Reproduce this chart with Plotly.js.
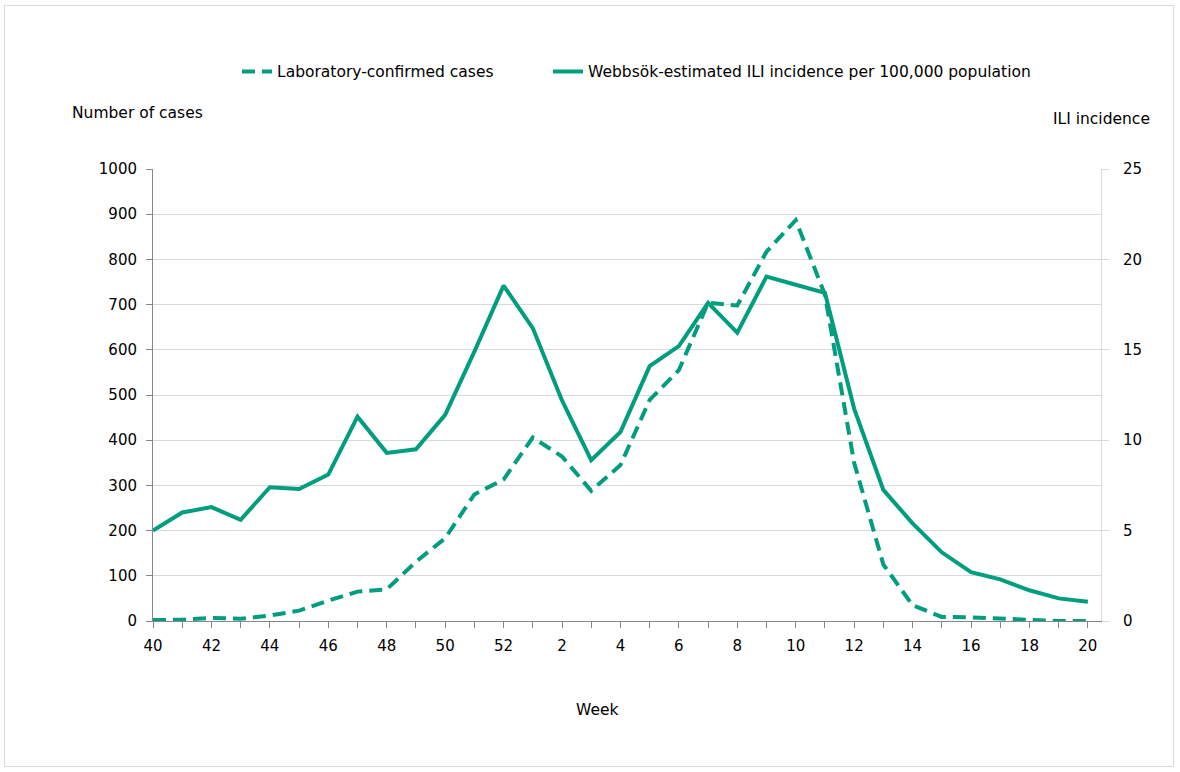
<!DOCTYPE html>
<html>
<head>
<meta charset="utf-8">
<script src="https://cdn.plot.ly/plotly-3.0.1.min.js"></script>
<style>
    body { margin: 0; background: #fff; }
    #chart { width: 1180px; height: 772px; }
    #frame { position: absolute; left: 4px; top: 5px; width: 1168px; height: 760px;
             border: 1px solid #d9d9d9; pointer-events: none; }
</style>
</head>
<body>
<div id="chart"></div>
<div id="frame"></div>
<script>

const weeks = [ 40, 41, 42, 43, 44, 45, 46, 47, 48, 49, 50, 51, 52,
    1, 2, 3, 4, 5, 6, 7, 8, 9, 10, 11, 12, 13, 14, 15, 16, 17, 18, 19, 20 ];

// laboratory-confirmed cases (left axis)
const labCases = [ 2, 3, 7, 5, 12, 23, 45, 65, 70, 131, 183, 280, 313,
    406, 364, 288, 345, 489, 555, 704, 698, 817, 887, 722, 350, 125, 35,
    9, 8, 5, 3, 0, 0 ];

// Webbsök ILI incidence per 100,000 (right axis)
const iliIncidence = [ 5.0, 6.0, 6.3, 5.6, 7.4, 7.3, 8.1, 11.3, 9.3, 9.5, 11.4, 14.9, 18.55,
    16.2, 12.2, 8.9, 10.45, 14.1, 15.2, 17.6, 15.95, 19.05, 18.6, 18.15, 11.75, 7.25, 5.4,
    3.8, 2.7, 2.3, 1.7, 1.25, 1.07 ];

const green = '#009e7e';
const font = 'DejaVu Sans, Verdana, sans-serif';

const xIdx = weeks.map( ( w, i ) => i );
const tickText = weeks.map( ( w, i ) => i % 2 === 0 ? String( w ) : '' );

const data = [
    {
        type: 'scatter',
        mode: 'lines',
        name: 'Laboratory-confirmed cases',
        legend: 'legend',
        x: xIdx,
        y: labCases,
        yaxis: 'y',
        line: { color: green, width: 4, dash: '13px,7px' }
    },
    {
        type: 'scatter',
        mode: 'lines',
        name: 'Webbsök-estimated ILI incidence per 100,000 population',
        legend: 'legend2',
        x: xIdx,
        y: iliIncidence,
        yaxis: 'y2',
        line: { color: green, width: 4 }
    }
];

const legendBase = {
    orientation: 'h',
    xanchor: 'left',
    y: 1.215,
    yanchor: 'middle',
    font: { family: font, size: 15.5, color: '#000' }
};

const layout = {
    width: 1180,
    height: 772,
    margin: { l: 153, r: 79, t: 169, b: 151 },
    paper_bgcolor: '#fff',
    plot_bgcolor: '#fff',
    font: { family: font, size: 15, color: '#000' },
    showlegend: true,
    legend: Object.assign( {}, legendBase, { x: ( 237 - 153 ) / 948 } ),
    legend2: Object.assign( {}, legendBase, { x: ( 548 - 153 ) / 948 } ),
    xaxis: {
        range: [ 0, 32.45 ],
        tickvals: xIdx,
        ticktext: tickText,
        ticks: 'outside',
        ticklen: 6,
        tickcolor: '#868686',
        ticklabelstandoff: 5,
        showline: true,
        linecolor: '#868686',
        linewidth: 1,
        showgrid: false,
        zeroline: false,
        fixedrange: true
    },
    yaxis: {
        range: [ 0, 1000 ],
        tickvals: [ 0, 100, 200, 300, 400, 500, 600, 700, 800, 900, 1000 ],
        ticks: 'outside',
        ticklen: 6,
        tickcolor: '#868686',
        ticklabelstandoff: 6,
        showline: true,
        linecolor: '#868686',
        gridcolor: '#d9d9d9',
        zeroline: false,
        fixedrange: true
    },
    yaxis2: {
        overlaying: 'y',
        side: 'right',
        range: [ 0, 25 ],
        tickvals: [ 0, 5, 10, 15, 20, 25 ],
        ticks: 'outside',
        ticklen: 7,
        tickcolor: '#d9d9d9',
        ticklabelstandoff: 11,
        showline: true,
        linecolor: '#d9d9d9',
        showgrid: false,
        zeroline: false,
        fixedrange: true
    },
    annotations: [
        {
            text: 'Number of cases',
            xref: 'paper', yref: 'paper',
            x: -0.088, y: ( 621 - 113 ) / 452,
            xanchor: 'left', yanchor: 'middle',
            font: { size: 15.5 },
            showarrow: false
        },
        {
            text: 'ILI incidence',
            xref: 'paper', yref: 'paper',
            x: ( 1152 - 153 ) / 948, y: ( 621 - 119 ) / 452,
            xanchor: 'right', yanchor: 'middle',
            font: { size: 15.5 },
            showarrow: false
        },
        {
            text: 'Week',
            xref: 'paper', yref: 'paper',
            x: ( 597 - 153 ) / 948, y: ( 621 - 710 ) / 452,
            xanchor: 'center', yanchor: 'middle',
            font: { size: 15.5 },
            showarrow: false
        }
    ]
};

Plotly.newPlot( 'chart', data, layout, { displayModeBar: false, staticPlot: true } );

</script>
</body>
</html>
